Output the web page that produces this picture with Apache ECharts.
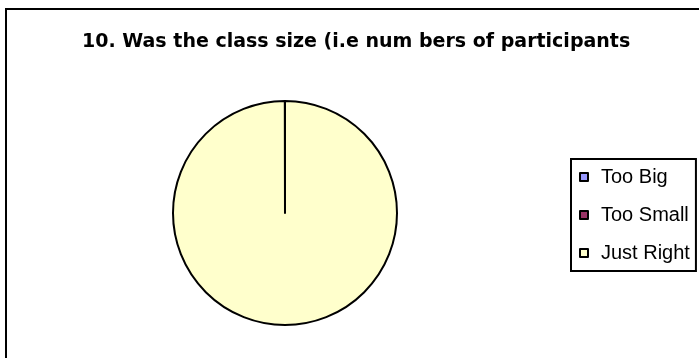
<!DOCTYPE html>
<html>
<head>
<meta charset="utf-8">
<script src="https://cdn.jsdelivr.net/npm/echarts@6/dist/echarts.min.js"></script>
<style>
body { margin: 0; background: #fff; }
#main { width: 699px; height: 358px; }
</style>
</head>
<body>
<div id="main"></div>
<script>
var titleText = '10. Was the class size (i.e num bers of participants';
var categories = ['Too Big', 'Too Small', 'Just Right'];
var values = [0, 0, 100];
var colors = ['#9999FF', '#993366', '#FFFFCC'];

var myChart = echarts.init(document.getElementById('main'));

var pieData = [];
for (var i = 0; i < categories.length; i++) {
	pieData.push({
		name: categories[i],
		value: values[i],
		itemStyle: { color: colors[i] }
	});
}

var option = {
	animation: false,
	backgroundColor: '#fff',
	title: {
		text: titleText,
		left: 77,
		top: 28,
		textStyle: {
			fontFamily: 'DejaVu Sans',
			fontWeight: 'bold',
			fontSize: 19,
			color: '#000'
		}
	},
	legend: {
		orient: 'vertical',
		left: 571,
		top: 159,
		padding: [8, 6, 8, 8],
		itemWidth: 8,
		itemHeight: 8,
		itemGap: 18,
		icon: 'rect',
		borderColor: '#000',
		borderWidth: 2,
		data: categories,
		textStyle: {
			fontFamily: 'Liberation Sans',
			fontSize: 20,
			lineHeight: 20,
			color: '#000',
			padding: [0, 0, 0, 8]
		}
	},
	graphic: [{
		type: 'rect',
		shape: { x: 6, y: 9, width: 800, height: 400 },
		style: { fill: 'none', stroke: '#000', lineWidth: 2 }
	}],
	series: [{
		type: 'pie',
		center: [285, 213],
		radius: 112,
		startAngle: 90,
		// stop just short of a full turn so the slice edge at 12 o'clock is drawn
		endAngle: -269.9,
		clockwise: true,
		label: { show: false },
		labelLine: { show: false },
		emphasis: { disabled: true },
		itemStyle: { borderColor: '#000', borderWidth: 2 },
		data: pieData
	}]
};

myChart.setOption(option);
</script>
</body>
</html>
